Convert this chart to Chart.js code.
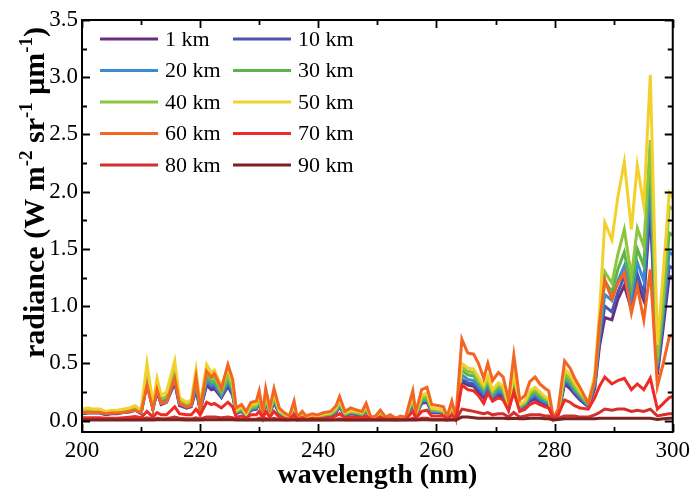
<!DOCTYPE html>
<html>
<head>
<meta charset="utf-8">
<script src="https://cdn.jsdelivr.net/npm/chart.js@4"></script>
<style>
  html, body { margin: 0; padding: 0; background: #fff; }
</style>
</head>
<body>
<canvas id="radianceChart" width="695" height="494"></canvas>
<script>
// wavelength grid (nm)
const wavelength = [
  200, 201, 202, 203, 204, 205, 206, 207, 208, 209,
  210, 211, 212, 212.7, 213.4, 214.3, 215.7, 216.5, 217.7, 218.5,
  219.3, 220, 221.1, 221.9, 222.4, 223.6, 224.7, 225.5, 226.1, 227,
  227.8, 228.6, 229.5, 230, 230.6, 231.1, 231.8, 232.5, 233.4, 234.2,
  235.1, 235.9, 236.4, 237.3, 237.9, 239, 239.8, 241, 242.1, 243,
  243.6, 244.5, 245.5, 246.6, 247.4, 248.1, 248.9, 249.7, 250.5, 251.4,
  252.2, 253.1, 253.9, 254.8, 255.3, 256, 256.5, 257.5, 258.4, 259.2,
  260.4, 261.2, 261.8, 262.6, 263.3, 264.3, 265.3, 266.3, 267.1, 268,
  268.7, 269.5, 270.5, 271.3, 272.2, 273.1, 274.1, 275, 275.8, 276.7,
  277.5, 278.4, 279, 279.8, 280.6, 281.7, 282.6, 283.4, 284.3, 285.7,
  286.8, 287.6, 288.5, 289.7, 290.7, 291.8, 293, 294, 295.1, 296.2,
  297.4, 298.4, 299.4, 300
];

const km1 = [
  .06, .065, .065, .065, .05, .06, .06, .07, .075, .09,
  .06, .32, .10, .25, .14, .16, .33, .13, .11, .12,
  .27, .09, .31, .27, .28, .20, .30, .22, .06, .08,
  .04, .09, .10, .15, .04, .16, .06, .16, .06, .04,
  .02, .10, .02, .045, .02, .03, .025, .04, .045, .07,
  .12, .045, .06, .05, .045, .08, .02, .02, .05, .02,
  .025, .015, .02, .02, .07, .14, .04, .15, .16, .07,
  .07, .06, .02, .09, .02, .34, .31, .30, .25, .20,
  .26, .18, .22, .20, .09, .28, .09, .12, .17, .19,
  .16, .14, .13, .02, .05, .32, .28, .23, .18, .12,
  .28, .65, .90, .88, 1.06, 1.18, .97, 1.20, 1.05, 1.85,
  .40, .82, 1.26, 1.25
];
const km10 = [
  .065, .07, .07, .07, .055, .065, .065, .075, .08, .095,
  .065, .34, .10, .26, .15, .17, .35, .14, .11, .13,
  .29, .09, .33, .29, .30, .21, .32, .23, .065, .085,
  .04, .095, .10, .16, .04, .17, .065, .17, .065, .04,
  .025, .10, .02, .045, .025, .035, .03, .04, .045, .075,
  .12, .045, .065, .055, .045, .085, .02, .025, .055, .02,
  .03, .015, .025, .02, .075, .15, .04, .16, .17, .075,
  .075, .065, .02, .095, .02, .36, .33, .32, .27, .22,
  .28, .19, .24, .22, .10, .30, .10, .13, .18, .21,
  .17, .15, .14, .02, .06, .34, .30, .24, .19, .12,
  .30, .70, 1.00, .95, 1.12, 1.26, 1.03, 1.28, 1.10, 1.95,
  .43, .88, 1.35, 1.33
];
const km20 = [
  .07, .08, .075, .075, .06, .07, .07, .08, .085, .10,
  .07, .36, .11, .27, .16, .18, .37, .15, .12, .14,
  .31, .10, .35, .31, .32, .22, .34, .25, .07, .09,
  .045, .10, .11, .17, .045, .18, .07, .18, .07, .045,
  .025, .11, .02, .05, .025, .035, .03, .045, .05, .08,
  .13, .05, .07, .06, .05, .09, .02, .025, .06, .02,
  .03, .015, .025, .02, .08, .16, .045, .17, .18, .08,
  .08, .07, .02, .10, .02, .40, .36, .35, .30, .24,
  .31, .21, .26, .24, .11, .33, .11, .14, .20, .23,
  .19, .16, .15, .02, .06, .36, .32, .26, .21, .13,
  .32, .75, 1.10, 1.05, 1.22, 1.35, 1.08, 1.38, 1.22, 2.10,
  .47, .95, 1.47, 1.45
];
const km30 = [
  .08, .09, .08, .08, .065, .075, .075, .085, .09, .11,
  .075, .40, .12, .30, .18, .20, .40, .16, .13, .15,
  .34, .11, .39, .34, .35, .24, .37, .27, .075, .10,
  .05, .11, .12, .18, .05, .20, .075, .20, .075, .05,
  .03, .12, .02, .055, .03, .04, .03, .05, .055, .09,
  .15, .055, .075, .065, .055, .10, .02, .03, .065, .02,
  .03, .02, .03, .02, .09, .17, .05, .18, .19, .09,
  .085, .075, .02, .11, .02, .44, .40, .39, .33, .27,
  .34, .23, .29, .26, .12, .36, .12, .15, .22, .25,
  .21, .18, .17, .02, .07, .38, .34, .28, .22, .14,
  .34, .80, 1.22, 1.12, 1.32, 1.47, 1.15, 1.50, 1.35, 2.38,
  .50, 1.00, 1.64, 1.62
];
const km40 = [
  .09, .10, .09, .09, .07, .08, .08, .09, .10, .12,
  .08, .43, .13, .32, .19, .21, .43, .17, .14, .16,
  .37, .12, .42, .37, .38, .26, .40, .29, .08, .11,
  .055, .12, .13, .20, .05, .22, .08, .22, .08, .05,
  .03, .13, .02, .06, .03, .045, .035, .05, .06, .10,
  .16, .06, .08, .07, .06, .11, .02, .03, .07, .02,
  .035, .02, .03, .02, .10, .19, .05, .20, .21, .10,
  .09, .08, .02, .12, .02, .47, .43, .42, .35, .29,
  .36, .25, .31, .28, .13, .39, .13, .16, .24, .27,
  .23, .19, .18, .02, .07, .41, .37, .30, .24, .15,
  .36, .85, 1.30, 1.20, 1.45, 1.67, 1.26, 1.68, 1.52, 2.45,
  .55, 1.10, 1.87, 1.85
];
const km50 = [
  .10, .11, .10, .10, .08, .09, .09, .10, .11, .13,
  .09, .50, .15, .37, .22, .25, .52, .20, .16, .18,
  .44, .14, .49, .42, .44, .30, .46, .33, .09, .12,
  .06, .14, .15, .23, .06, .25, .09, .25, .09, .06,
  .03, .15, .02, .07, .03, .05, .04, .06, .07, .11,
  .18, .07, .09, .08, .07, .13, .02, .03, .08, .02,
  .04, .02, .03, .02, .11, .21, .06, .22, .24, .11,
  .10, .09, .02, .14, .02, .50, .46, .45, .38, .31,
  .39, .27, .33, .30, .14, .42, .14, .17, .26, .29,
  .25, .21, .19, .02, .08, .45, .40, .33, .26, .16,
  .40, .95, 1.73, 1.58, 1.95, 2.26, 1.67, 2.23, 1.88, 3.02,
  .66, 1.30, 1.99, 1.95
];
const km60 = [
  .07, .07, .07, .07, .06, .065, .065, .07, .08, .09,
  .07, .31, .10, .27, .15, .16, .37, .15, .12, .13,
  .38, .10, .43, .38, .41, .28, .49, .36, .11, .14,
  .08, .16, .17, .26, .07, .28, .11, .28, .11, .07,
  .04, .17, .03, .08, .04, .06, .05, .07, .08, .13,
  .21, .08, .11, .09, .08, .15, .03, .04, .09, .03,
  .05, .02, .04, .03, .13, .26, .07, .27, .29, .14,
  .13, .12, .03, .17, .03, .71, .59, .58, .50, .37,
  .50, .35, .42, .38, .18, .57, .18, .22, .34, .38,
  .32, .28, .26, .02, .10, .52, .46, .37, .29, .15,
  .35, .85, 1.23, 1.06, 1.20, 1.29, .94, 1.17, .88, 1.32,
  .30, .50, .73, .75
];
const km70 = [
  .025, .025, .025, .025, .02, .02, .02, .025, .03, .035,
  .025, .08, .03, .07, .05, .05, .12, .06, .05, .05,
  .10, .05, .16, .14, .15, .11, .16, .12, .03, .04,
  .02, .05, .05, .08, .02, .08, .03, .08, .03, .02,
  .01, .05, .01, .025, .01, .02, .015, .02, .025, .04,
  .06, .025, .03, .03, .025, .04, .01, .01, .03, .01,
  .015, .01, .01, .01, .04, .08, .02, .08, .09, .04,
  .04, .04, .01, .05, .01, .31, .27, .26, .22, .15,
  .24, .17, .20, .18, .09, .25, .08, .10, .14, .16,
  .14, .12, .11, .02, .05, .18, .16, .13, .11, .10,
  .20, .30, .38, .32, .35, .37, .27, .32, .27, .37,
  .10, .15, .20, .21
];
const km80 = [
  .01, .01, .01, .01, .01, .01, .01, .01, .01, .012,
  .01, .025, .012, .02, .015, .015, .03, .02, .015, .015,
  .025, .015, .03, .03, .03, .025, .03, .025, .01, .012,
  .01, .012, .012, .02, .01, .02, .01, .02, .01, .008,
  .006, .012, .006, .008, .006, .007, .006, .008, .008, .01,
  .015, .008, .01, .008, .008, .01, .006, .006, .008, .006,
  .006, .005, .006, .006, .01, .02, .008, .02, .02, .01,
  .01, .01, .006, .012, .006, .10, .09, .08, .07, .06,
  .07, .05, .06, .06, .03, .07, .03, .04, .05, .05,
  .05, .04, .04, .01, .02, .04, .04, .04, .03, .03,
  .05, .07, .10, .09, .10, .10, .08, .09, .08, .10,
  .04, .05, .06, .06
];
const km90 = [
  .005, .005, .005, .005, .005, .005, .005, .005, .005, .005,
  .005, .008, .005, .007, .006, .006, .008, .006, .005, .005,
  .007, .005, .008, .008, .008, .007, .008, .007, .005, .005,
  .005, .005, .005, .006, .005, .006, .005, .006, .005, .004,
  .004, .005, .004, .004, .004, .004, .004, .004, .004, .005,
  .005, .004, .005, .004, .004, .005, .004, .004, .004, .004,
  .004, .004, .004, .004, .005, .006, .004, .006, .006, .005,
  .005, .005, .004, .005, .004, .03, .03, .025, .02, .02,
  .02, .02, .02, .02, .015, .02, .015, .015, .02, .02,
  .02, .015, .015, .005, .01, .015, .015, .015, .015, .015,
  .015, .02, .02, .02, .02, .02, .02, .02, .02, .02,
  .01, .015, .02, .02
];

const seriesLabels = ['1 km', '10 km', '20 km', '30 km', '40 km', '50 km', '60 km', '70 km', '80 km', '90 km'];
const seriesValues = [km1, km10, km20, km30, km40, km50, km60, km70, km80, km90];
const seriesColors = ['#6b2c82', '#4a55b0', '#3b8ad4', '#5cb54a', '#8cc63e', '#f3d12c', '#f26522', '#ee2b24', '#d2302d', '#7b2222'];

const SERIF = '"Liberation Serif", "Times New Roman", serif';

function isHalfStep(v) {
    return Math.abs(v * 2 - Math.round(v * 2)) < 1e-6;
}

// frame, inward ticks, legend and axis titles
const decorPlugin = {
    id: 'decor',
    afterDraw(chart) {
        const ctx = chart.ctx;
        const { left, right, top, bottom } = chart.chartArea;
        const xs = chart.scales.x;
        const ys = chart.scales.y;
        ctx.save();
        ctx.strokeStyle = '#000';
        ctx.lineWidth = 2;
        ctx.strokeRect(left, top, right - left, bottom - top);

        ctx.lineWidth = 1.8;
        ctx.beginPath();
        xs.ticks.forEach(t => {
            const px = Math.round(xs.getPixelForValue(t.value)) + 0.5;
            const len = t.value % 20 === 0 ? 8 : 5;
            ctx.moveTo(px, bottom); ctx.lineTo(px, bottom - len);
            ctx.moveTo(px, top); ctx.lineTo(px, top + len);
        });
        ys.ticks.forEach(t => {
            if (t.value < -1e-6) return;
            const py = Math.round(ys.getPixelForValue(t.value)) + 0.5;
            const len = isHalfStep(t.value) ? 8 : 5;
            ctx.moveTo(left, py); ctx.lineTo(left + len, py);
            ctx.moveTo(right, py); ctx.lineTo(right - len, py);
        });
        ctx.stroke();

        // legend, two columns
        ctx.font = '22px ' + SERIF;
        ctx.textBaseline = 'middle';
        ctx.textAlign = 'left';
        chart.data.datasets.forEach((ds, i) => {
            const row = Math.floor(i / 2);
            const col = i % 2;
            const y = 39 + row * 31.5;
            const x0 = col === 0 ? 100 : 233;
            ctx.strokeStyle = ds.borderColor;
            ctx.lineWidth = 3;
            ctx.beginPath();
            ctx.moveTo(x0, y); ctx.lineTo(x0 + 58, y);
            ctx.stroke();
            ctx.fillStyle = '#000';
            ctx.fillText(ds.label, x0 + 65, y + 1);
        });

        // x title
        ctx.font = 'bold 28px ' + SERIF;
        ctx.textAlign = 'center';
        ctx.textBaseline = 'alphabetic';
        ctx.fillText('wavelength (nm)', (left + right) / 2, 483);

        // y title with superscripts
        ctx.translate(44, 358);
        ctx.rotate(-Math.PI / 2);
        ctx.textAlign = 'left';
        const parts = [['radiance (W m', false], ['-2', true], [' sr', false], ['-1', true], [' \u03bcm', false], ['-1', true], [')', false]];
        let pos = 0;
        parts.forEach(([text, sup]) => {
            ctx.font = sup ? 'bold 19px ' + SERIF : 'bold 30px ' + SERIF;
            ctx.fillText(text, pos, sup ? -12 : 0);
            pos += ctx.measureText(text).width;
        });
        ctx.restore();
    }
};

new Chart(document.getElementById('radianceChart'), {
    type: 'line',
    data: {
        datasets: seriesValues.map((vals, i) => ({
            label: seriesLabels[i],
            data: wavelength.map((w, j) => ({ x: w, y: vals[j] })),
            borderColor: seriesColors[i],
            backgroundColor: seriesColors[i],
            borderWidth: 3,
            pointRadius: 0,
            tension: 0,
            fill: false,
            order: seriesValues.length - i
        }))
    },
    options: {
        responsive: false,
        animation: false,
        layout: { padding: { top: 20, right: 20, left: 0, bottom: 0 } },
        plugins: { legend: { display: false }, tooltip: { enabled: false } },
        scales: {
            x: {
                type: 'linear',
                min: 200,
                max: 300,
                grid: { display: false, drawTicks: false, tickLength: 0 },
                border: { display: false },
                ticks: {
                    stepSize: 10,
                    autoSkip: false,
                    maxRotation: 0,
                    padding: 5,
                    color: '#000',
                    font: { family: SERIF, size: 23 },
                    callback: v => (v % 20 === 0 ? String(v) : '')
                },
                afterFit: s => { s.height = 62; }
            },
            y: {
                min: -0.1,
                max: 3.5,
                grid: { display: false, drawTicks: false, tickLength: 0 },
                border: { display: false },
                ticks: {
                    stepSize: 0.25,
                    includeBounds: false,
                    autoSkip: false,
                    padding: 4,
                    color: '#000',
                    font: { family: SERIF, size: 23 },
                    callback: v => (v > -1e-6 && isHalfStep(v) ? Math.abs(v).toFixed(1) : '')
                },
                afterFit: s => { s.width = 82; }
            }
        }
    },
    plugins: [decorPlugin]
});
</script>
</body>
</html>
